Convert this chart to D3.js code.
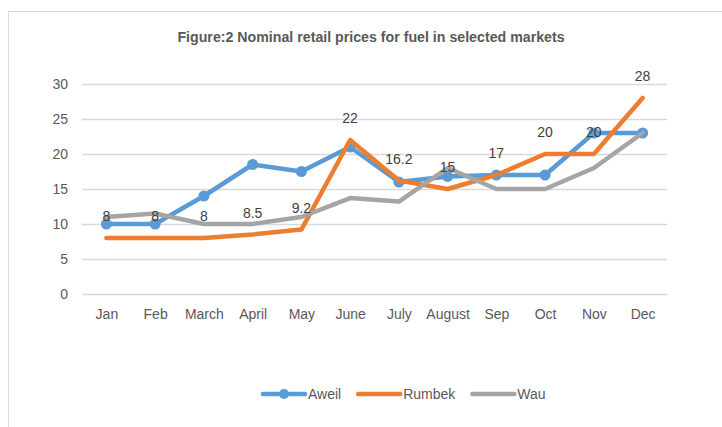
<!DOCTYPE html>
<html>
<head>
<meta charset="utf-8">
<script src="https://cdn.jsdelivr.net/npm/d3@7"></script>
<style>
  body { margin: 0; background: #fff; }
  text { font-family: "Liberation Sans", Arial, sans-serif; }
</style>
</head>
<body>
<div id="chart"></div>
<script>
(function() {
    const width = 722,
          height = 427;

    // chart values
    const months = ["Jan", "Feb", "March", "April", "May", "June", "July", "August", "Sep", "Oct", "Nov", "Dec"];
    const aweil = [10, 10, 14, 18.5, 17.5, 21, 16, 16.8, 17, 17, 23, 23];
    const rumbek = [8, 8, 8, 8.5, 9.2, 22, 16.2, 15, 17, 20, 20, 28];
    const wau = [11, 11.5, 10, 10, 11, 13.7, 13.2, 18, 15, 15, 18, 23];
    const yTicks = [0, 5, 10, 15, 20, 25, 30];

    const series = [
        { name: "Aweil", values: aweil, color: "#5b9bd5", marker: true },
        { name: "Rumbek", values: rumbek, color: "#ed7d31", marker: false },
        { name: "Wau", values: wau, color: "#a5a5a5", marker: false }
    ];

    const svg = d3.select("#chart")
        .append("svg")
        .attr("width", width)
        .attr("height", height)

    // outer chart frame (only left and top edge are visible)
    svg.append("rect")
        .attr("x", 8.5)
        .attr("y", 11.5)
        .attr("width", 760)
        .attr("height", 460)
        .attr("fill", "none")
        .attr("stroke", "#d9d9d9")

    svg.append("text")
        .attr("x", 371)
        .attr("y", 42)
        .attr("text-anchor", "middle")
        .attr("font-size", 14.2)
        .attr("font-weight", "bold")
        .attr("fill", "#595959")
        .text("Figure:2 Nominal retail prices for fuel in selected markets")

    const x = d3.scalePoint()
        .domain(months)
        .range([82, 667])
        .padding(0.5)

    const y = d3.scaleLinear()
        .domain([0, 30])
        .range([294, 84])

    // gridlines
    svg.append("g")
        .selectAll("line")
        .data(yTicks)
        .enter().append("line")
        .attr("x1", 82)
        .attr("x2", 667)
        .attr("y1", d => y(d) + 0.5)
        .attr("y2", d => y(d) + 0.5)
        .attr("stroke", "#d9d9d9")
        .attr("stroke-width", 1.3)

    const yAxis = svg.append("g")
        .attr("transform", "translate(82,0)")
        .call(d3.axisLeft(y).tickValues(yTicks).tickSize(0).tickPadding(14))
    yAxis.select(".domain").remove()
    yAxis.selectAll("text")
        .attr("font-size", 14)
        .attr("font-family", "Liberation Sans, Arial, sans-serif")
        .attr("fill", "#595959")

    const xAxis = svg.append("g")
        .attr("transform", "translate(0,294)")
        .call(d3.axisBottom(x).tickSize(0).tickPadding(15))
    xAxis.select(".domain").remove()
    xAxis.selectAll("text")
        .attr("font-size", 14)
        .attr("font-family", "Liberation Sans, Arial, sans-serif")
        .attr("fill", "#595959")

    const line = d3.line()
        .x((d, i) => x(months[i]))
        .y(d => y(d))

    series.forEach(s => {
        svg.append("path")
            .datum(s.values)
            .attr("d", line)
            .attr("fill", "none")
            .attr("stroke", s.color)
            .attr("stroke-width", 4.5)
            .attr("stroke-linejoin", "round")
            .attr("stroke-linecap", "round")

        if (s.marker) {
            svg.append("g")
                .selectAll("circle")
                .data(s.values)
                .enter().append("circle")
                .attr("cx", (d, i) => x(months[i]))
                .attr("cy", d => y(d))
                .attr("r", 5.5)
                .attr("fill", s.color)
        }
    })

    // data labels (Rumbek values), placed above the Rumbek points
    svg.append("g")
        .selectAll("text")
        .data(rumbek)
        .enter().append("text")
        .attr("x", (d, i) => x(months[i]))
        .attr("y", d => y(d) - 17)
        .attr("text-anchor", "middle")
        .attr("font-size", 14)
        .attr("fill", "#404040")
        .text(d => d)

    // legend
    const legend = svg.append("g")
        .attr("transform", "translate(0,394)")
    let lx = 263;
    series.forEach(s => {
        legend.append("line")
            .attr("x1", lx)
            .attr("x2", lx + 42)
            .attr("stroke", s.color)
            .attr("stroke-width", 4.5)
            .attr("stroke-linecap", "round")
        if (s.marker) {
            legend.append("circle")
                .attr("cx", lx + 21)
                .attr("r", 5)
                .attr("fill", s.color)
        }
        const t = legend.append("text")
            .attr("x", lx + 45)
            .attr("y", 5)
            .attr("font-size", 14)
            .attr("fill", "#595959")
            .text(s.name)
        lx += 45 + t.node().getComputedTextLength() + 17;
    })
})();
</script>
</body>
</html>
